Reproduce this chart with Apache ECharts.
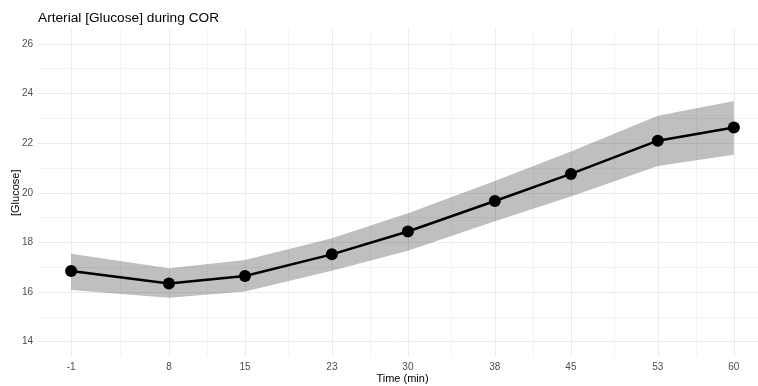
<!DOCTYPE html>
<html>
<head>
<meta charset="utf-8">
<script src="https://cdn.jsdelivr.net/npm/echarts@6/dist/echarts.min.js"></script>
<style>html,body{margin:0;padding:0;background:#fff}#c{width:758px;height:386px}</style>
</head>
<body>
<div id="c"></div>
<script>
const times = [-1, 8, 15, 23, 30, 38, 45, 53, 60];
const glucose = [16.85, 16.35, 16.65, 17.52, 18.44, 19.67, 20.76, 22.1, 22.63];
const upper = [17.54, 16.96, 17.29, 18.17, 19.18, 20.48, 21.66, 23.1, 23.7];
const lower = [16.08, 15.77, 16.02, 16.86, 17.67, 18.85, 19.85, 21.08, 21.53];
const yTicks = [14, 16, 18, 20, 22, 24, 26];
const yMinor = [15, 17, 19, 21, 23, 25];
const xMinor = times.slice(1).map((t, i) => (t + times[i]) / 2);

const FONT = 'Liberation Sans, Arial, sans-serif';
const chart = echarts.init(document.getElementById('c'), null, {renderer: 'canvas'});
const xMin = -4.05, xMax = 63.05, yMin = 13.4, yMax = 26.6;

chart.setOption({
  animation: false,
  backgroundColor: '#fff',
  title: {
    text: 'Arterial [Glucose] during COR',
    left: 33, top: 6,
    textStyle: {fontFamily: FONT, fontSize: 13.7, fontWeight: 'normal', color: '#000'}
  },
  grid: {left: 38, right: -9, top: 29, bottom: 29.4, containLabel: false, outerBoundsMode: 'none'},
  xAxis: [{
    type: 'value', min: xMin, max: xMax,
    name: 'Time (min)', nameLocation: 'middle', nameGap: 17, nameMoveOverlap: false,
    nameTextStyle: {fontFamily: FONT, fontSize: 11, color: '#000'},
    axisLine: {show: false},
    axisTick: {show: false, customValues: times},
    axisLabel: {customValues: times, fontFamily: FONT, fontSize: 10, color: '#4d4d4d', margin: 6},
    splitLine: {show: true, lineStyle: {color: '#ebebeb', width: 1}}
  }, {
    type: 'value', min: xMin, max: xMax, position: 'top',
    axisLine: {show: false},
    axisTick: {show: false, customValues: xMinor},
    axisLabel: {show: false, customValues: xMinor},
    splitLine: {show: true, lineStyle: {color: '#f3f3f3', width: 1}}
  }],
  yAxis: [{
    type: 'value', min: yMin, max: yMax,
    name: '[Glucose]', nameLocation: 'middle', nameGap: 17, nameMoveOverlap: false,
    nameTextStyle: {fontFamily: FONT, fontSize: 11, color: '#000'},
    axisLine: {show: false},
    axisTick: {show: false, customValues: yTicks},
    axisLabel: {customValues: yTicks, fontFamily: FONT, fontSize: 10, color: '#4d4d4d', margin: 5},
    splitLine: {show: true, lineStyle: {color: '#ebebeb', width: 1}}
  }, {
    type: 'value', min: yMin, max: yMax, position: 'right',
    axisLine: {show: false},
    axisTick: {show: false, customValues: yMinor},
    axisLabel: {show: false, customValues: yMinor},
    splitLine: {show: true, lineStyle: {color: '#f3f3f3', width: 1}}
  }],
  series: [{
    type: 'custom',
    xAxisIndex: 0, yAxisIndex: 0,
    data: times.map((t, i) => [t, lower[i], upper[i]]),
    encode: {x: 0, y: [1, 2]},
    z: 1,
    silent: true,
    renderItem: function (params, api) {
      if (params.dataIndex !== 0) return null;
      const top = times.map((t, i) => api.coord([t, upper[i]]));
      const bot = times.map((t, i) => api.coord([t, lower[i]])).reverse();
      return {
        type: 'polygon',
        shape: {points: top.concat(bot)},
        style: {fill: 'rgba(0,0,0,0.25)'}
      };
    }
  }, {
    type: 'line',
    xAxisIndex: 0, yAxisIndex: 0,
    data: times.map((t, i) => [t, glucose[i]]),
    z: 3,
    symbol: 'circle', symbolSize: 12,
    itemStyle: {color: '#000'},
    lineStyle: {color: '#000', width: 2.5}
  }]
});
</script>
</body>
</html>
